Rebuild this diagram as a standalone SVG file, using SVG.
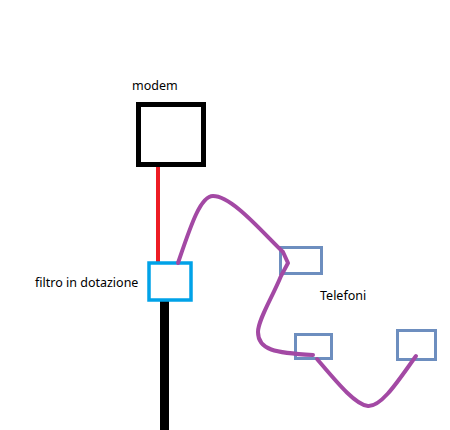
<svg xmlns="http://www.w3.org/2000/svg" width="450" height="430" viewBox="0 0 450 430">
<style>
text{font-family:"Noto Sans","Open Sans","DejaVu Sans",sans-serif;font-size:12.5px;fill:#000}
.phone{fill:#fff;stroke:#6d8ebf;stroke-width:3}
.wire{fill:none;stroke:#a349a4;stroke-width:4;stroke-linecap:round;stroke-linejoin:round}
</style>
<rect width="450" height="430" fill="#fff"/>
<g id="connectors">
<line x1="158" y1="167" x2="158" y2="262" stroke="#ed1c24" stroke-width="4"/>
<line x1="164.5" y1="298" x2="164.5" y2="430" stroke="#000" stroke-width="9"/>
</g>
<g id="modem">
<rect x="138.5" y="104.5" width="65" height="60" fill="#fff" stroke="#000" stroke-width="5"/>
<text x="132" y="90">modem</text>
</g>
<g id="filtro">
<rect x="149" y="263" width="42" height="37" fill="#fff" stroke="#00a2e8" stroke-width="3.5"/>
<text x="35" y="287">filtro in dotazione</text>
</g>
<g id="telefono1"><rect class="phone" x="280.5" y="247.5" width="41" height="26"/></g>
<g id="telefono2"><rect class="phone" x="295.5" y="334.5" width="36" height="24"/></g>
<g id="telefono3"><rect class="phone" x="397.5" y="330.5" width="38" height="29"/></g>
<g id="wires">
<path class="wire" d="M178,263 C190,228 200,196 213,196 C232,196 262,232 283,252 L288,263 L281,276 C272,298 258,320 258,332 C258,350 275,353 313,355"/>
<path class="wire" d="M317,359 C335,380 355,405 368,406 C382,407 400,378 416,356"/>
</g>
<g id="label-telefoni"><text x="320" y="300">Telefoni</text></g>
</svg>
